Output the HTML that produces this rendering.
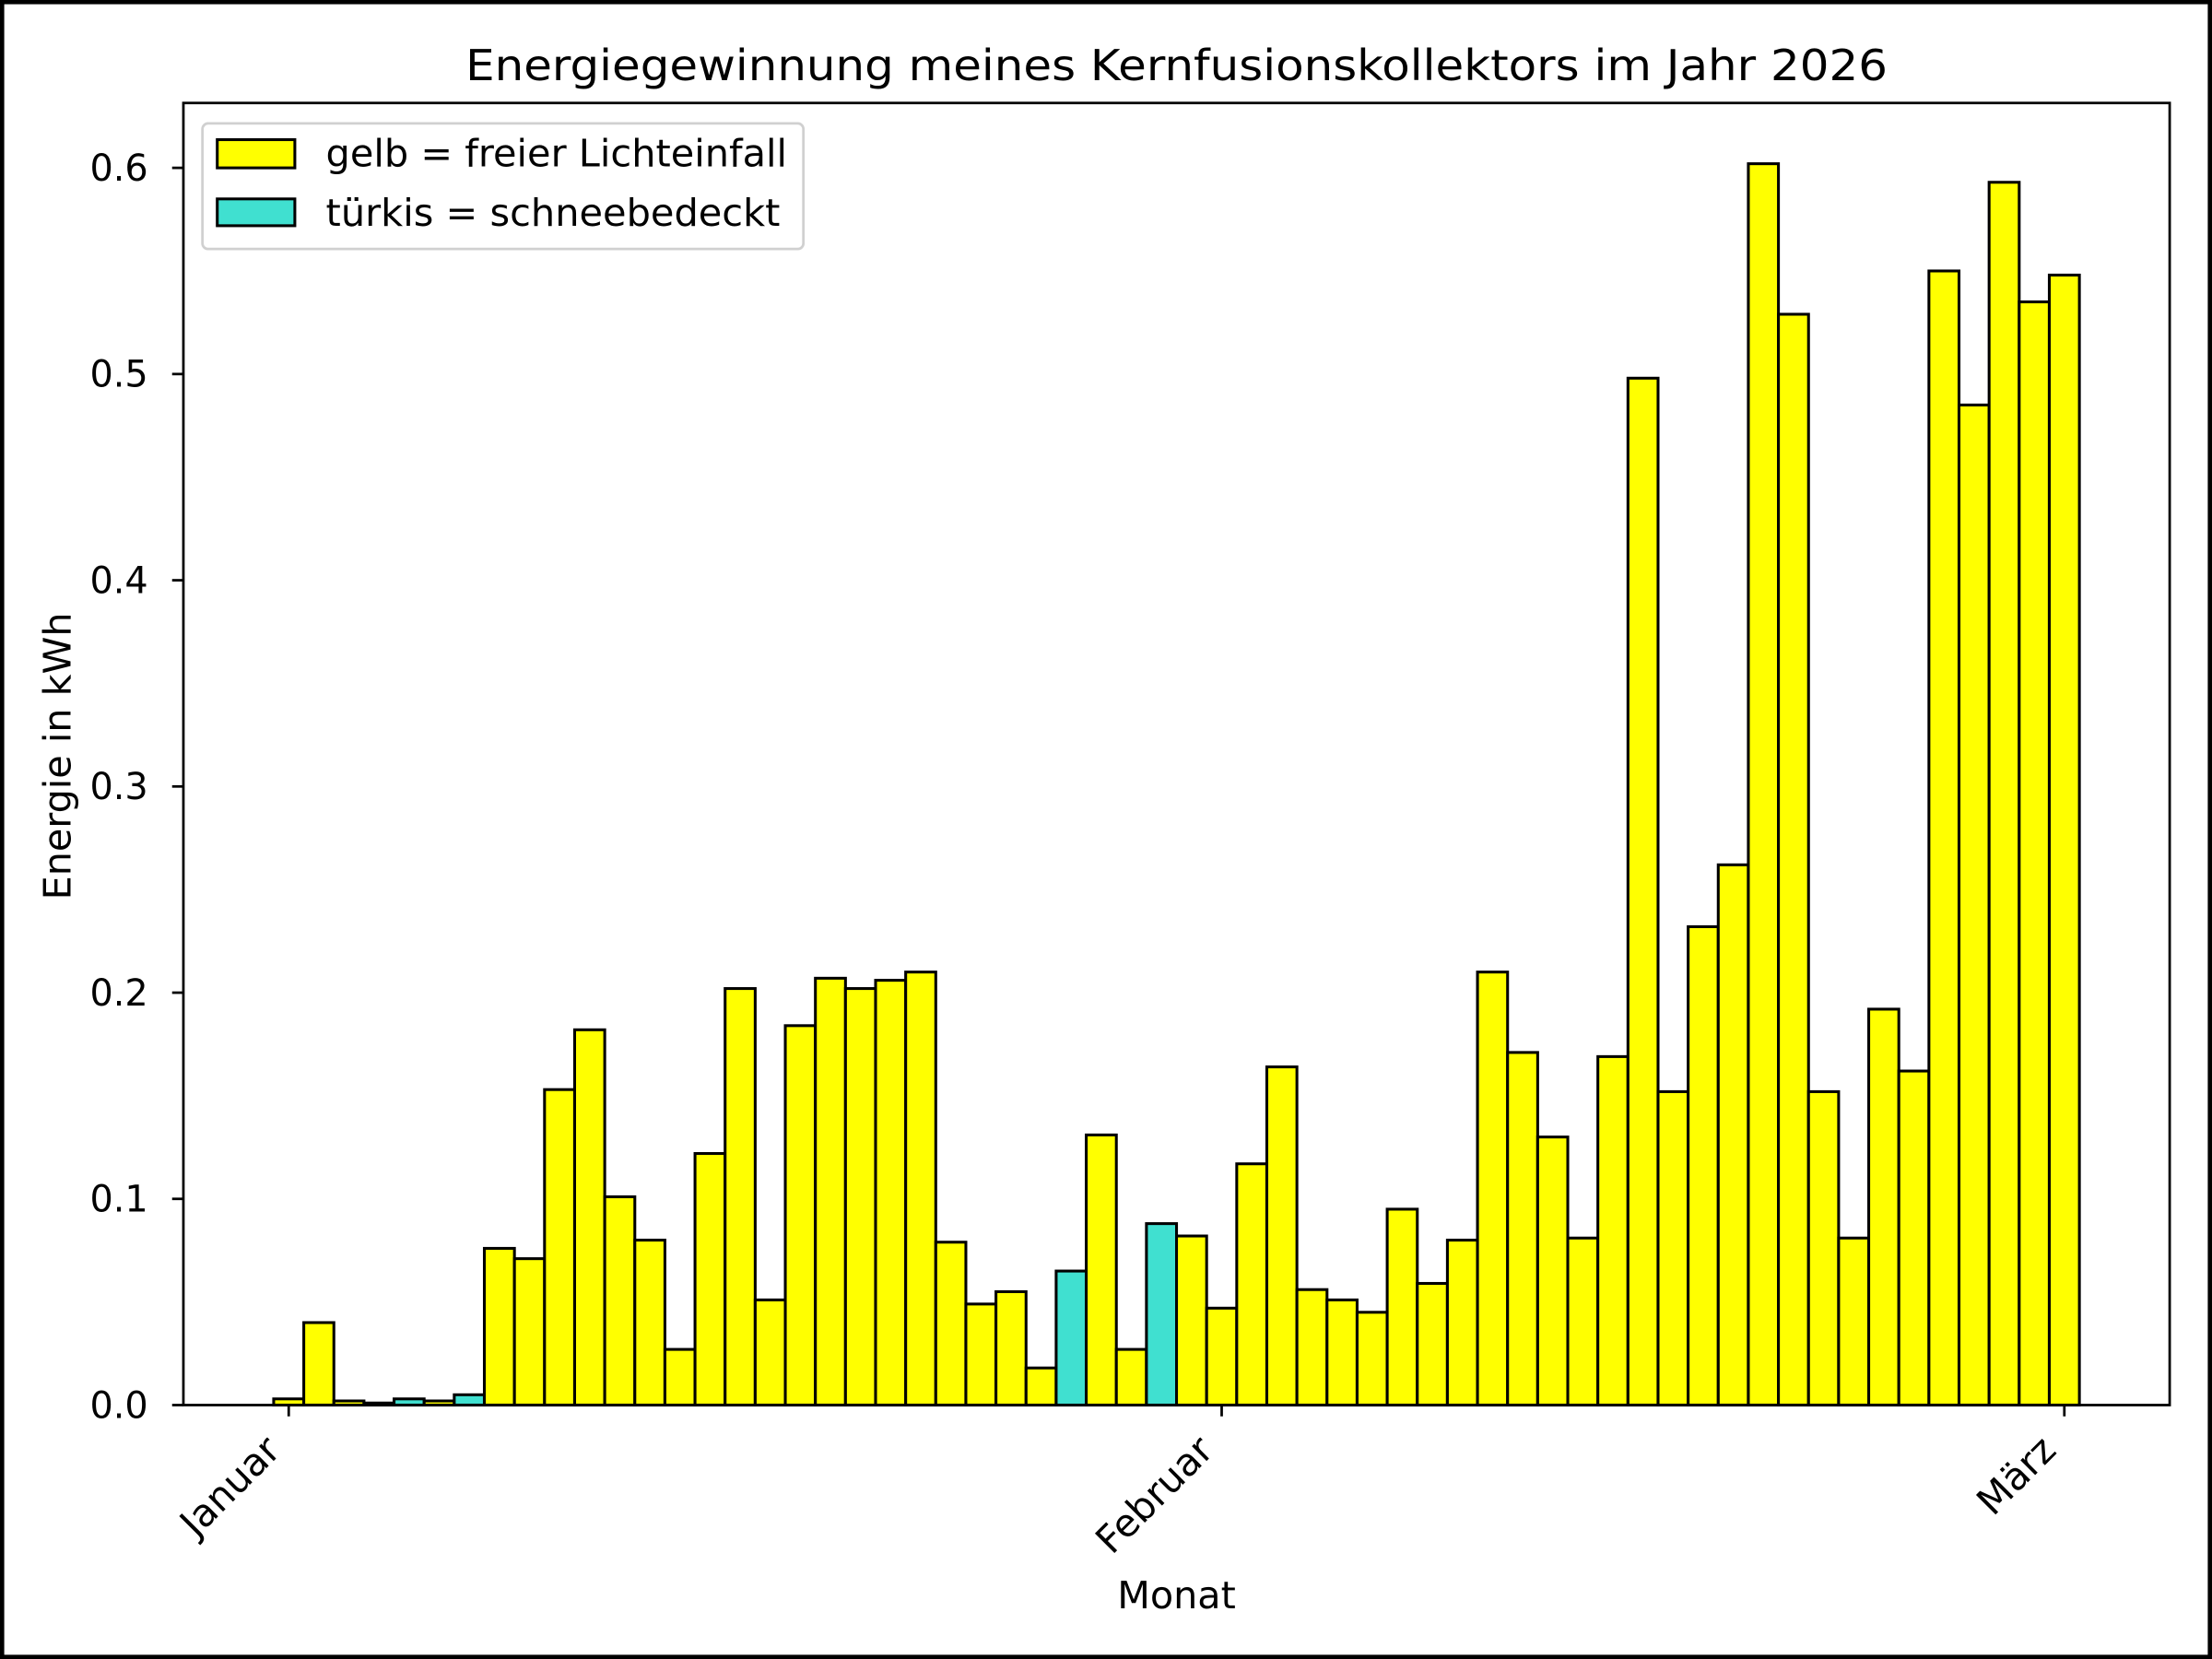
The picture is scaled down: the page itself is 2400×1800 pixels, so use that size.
<!DOCTYPE html>
<html><head><meta charset="utf-8"><style>
html,body{margin:0;padding:0;background:#fff;}
svg{display:block;font-family:"DejaVu Sans","Liberation Sans",sans-serif;}
</style></head><body>
<svg id="chart" width="2400" height="1800" viewBox="0 0 1568 1176">
<rect x="1.5" y="1.5" width="1565" height="1173" fill="#fff" stroke="#000" stroke-width="3"/>
<text x="834" y="57" font-size="30" text-anchor="middle" textLength="1008" lengthAdjust="spacingAndGlyphs">Energiegewinnung meines Kernfusionskollektors im Jahr 2026</text>
<g id="bars"></g>
<g id="yaxis"></g>
<g id="xaxis"></g>
<rect x="130" y="73" width="1408" height="923" fill="none" stroke="#000" stroke-width="1.8"/>
<text x="834" y="1140" font-size="27" text-anchor="middle">Monat</text>
<text transform="translate(50,536) rotate(-90)" font-size="27" text-anchor="middle">Energie in kWh</text>
<g>
<rect x="143.5" y="87.5" width="426" height="89" rx="4" fill="#fff" fill-opacity="0.8" stroke="#d0d0d0" stroke-width="1.8"/>
<rect x="154" y="99" width="55" height="20" fill="#ffff00" stroke="#000" stroke-width="2"/>
<text x="231" y="118" font-size="27" textLength="327" lengthAdjust="spacingAndGlyphs">gelb = freier Lichteinfall</text>
<rect x="154" y="141" width="55" height="19" fill="#40e0d0" stroke="#000" stroke-width="2"/>
<text x="231" y="160" font-size="27" textLength="322" lengthAdjust="spacingAndGlyphs">türkis = schneebedeckt</text>
</g>
</svg>
<script>
const values = [0.003,0.040,0.002,0.001,0.003,0.002,0.005,0.076,0.071,0.153,0.182,0.101,0.080,0.027,0.122,0.202,0.051,0.184,0.207,0.202,0.206,0.210,0.079,0.049,0.055,0.018,0.065,0.131,0.027,0.088,0.082,
0.047,0.117,0.164,0.056,0.051,0.045,0.095,0.059,0.080,0.210,0.171,0.130,0.081,0.169,0.498,0.152,0.232,0.262,0.602,0.529,0.152,0.081,0.192,0.162,0.550,0.485,0.593,0.535,0.548];
const snowDays = [4,6,26,29];
const yTicks = [0.0,0.1,0.2,0.3,0.4,0.5,0.6];
const yTickLabels = ["0.0","0.1","0.2","0.3","0.4","0.5","0.6"];
const monthDays = [0,31,59];
const monthLabels = ["Januar","Februar","März"];

const NS="http://www.w3.org/2000/svg";
const X0=130,X1=1538,D0=-3.5,D1=62.5;
const Y0=996,YPER=1461.7;
function xs(d){return X0+(d-D0)/(D1-D0)*(X1-X0);}
function ys(v){return Y0-v*YPER;}
const bw=xs(1)-xs(0);
const bars=document.getElementById('bars');
values.forEach((v,i)=>{
  const r=document.createElementNS(NS,'rect');
  r.setAttribute('x',xs(i)-bw/2);
  r.setAttribute('y',ys(v));
  r.setAttribute('width',bw);
  r.setAttribute('height',Math.max(0,Y0-ys(v)));
  r.setAttribute('fill',snowDays.includes(i)?'#40e0d0':'#ffff00');
  r.setAttribute('stroke','#000');
  r.setAttribute('stroke-width','2');
  
  
  bars.appendChild(r);
});
const ya=document.getElementById('yaxis');
yTicks.forEach((t,i)=>{
  const y=ys(t);
  const l=document.createElementNS(NS,'line');
  l.setAttribute('x1',X0-8);l.setAttribute('x2',X0);l.setAttribute('y1',y);l.setAttribute('y2',y);
  l.setAttribute('stroke','#000');l.setAttribute('stroke-width','1.8');
  
  
  ya.appendChild(l);
  const tx=document.createElementNS(NS,'text');
  tx.setAttribute('x',X0-25);tx.setAttribute('y',y+9);
  tx.setAttribute('font-size','26');tx.setAttribute('text-anchor','end');
  tx.textContent=yTickLabels[i];
  
  
  ya.appendChild(tx);
});
const xa=document.getElementById('xaxis');
monthDays.forEach((d,i)=>{
  const x=xs(d);
  const l=document.createElementNS(NS,'line');
  l.setAttribute('x1',x);l.setAttribute('x2',x);l.setAttribute('y1',Y0);l.setAttribute('y2',Y0+8);
  l.setAttribute('stroke','#000');l.setAttribute('stroke-width','1.8');
  
  
  xa.appendChild(l);
  const tx=document.createElementNS(NS,'text');
  tx.setAttribute('transform','translate('+(x-18)+','+(Y0+20)+') rotate(-45)');
  tx.setAttribute('font-size','27');tx.setAttribute('text-anchor','end');
  tx.setAttribute('dy','19');
  tx.textContent=monthLabels[i];
  
  
  xa.appendChild(tx);
});
</script>
</body></html>
